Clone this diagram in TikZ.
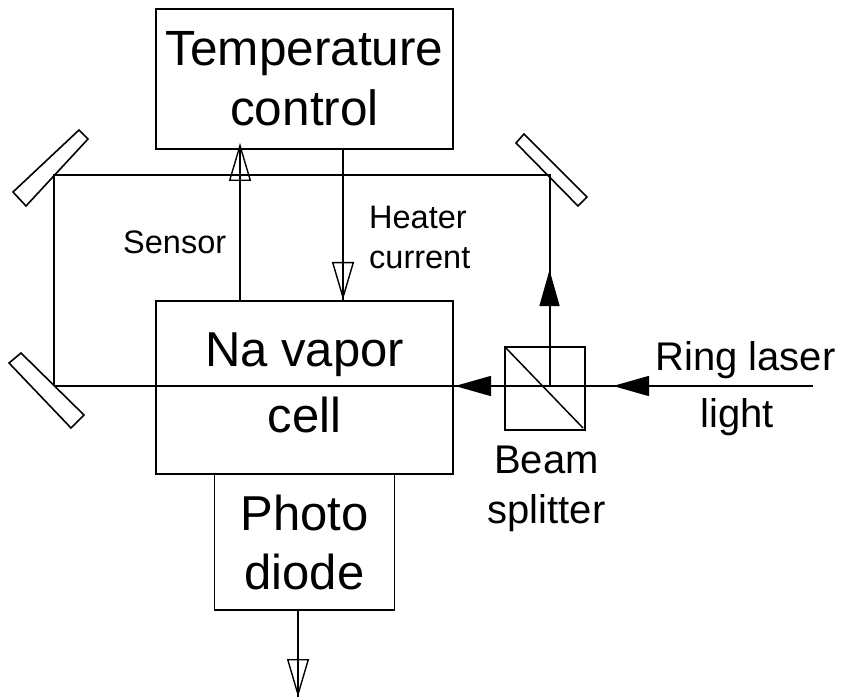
\documentclass[tikz,border=0pt]{standalone}
\usepackage{fontspec}
\setmainfont{Liberation Sans}
\usetikzlibrary{positioning,arrows.meta}

\tikzstyle{bigbox}    = [rectangle, draw=black, line width=1.8pt, outer sep=0pt, inner sep=0pt, align=center, font=\fontsize{49}{59}\selectfont]
\tikzstyle{cubebox}   = [rectangle, draw=black, line width=1.8pt, outer sep=0pt, inner sep=0pt, minimum width=80pt, minimum height=83pt]
\tikzstyle{biglabel}  = [anchor=base, inner sep=0pt, font=\fontsize{40}{50}\selectfont, align=center]
\tikzstyle{smalllabel}= [anchor=base west, inner sep=0pt, font=\fontsize{32.5}{40}\selectfont, align=left]
\tikzstyle{mirror}    = [draw=black, line width=1.6pt, line join=miter]
\tikzstyle{beam}      = [draw=black, line width=2pt]
\tikzstyle{thinbeam}  = [draw=black, line width=1.5pt]
\tikzstyle{wire}      = [draw=black, line width=1.4pt]
\tikzstyle{solidtip}  = [draw=black, line width=1.5pt, -{Triangle[length=36pt,width=20pt,fill=black]}]
\tikzstyle{hollowtip} = [draw=black, line width=1.4pt, -{Triangle[open,length=38pt,width=22pt,line width=1.4pt]}]

\begin{document}
\begin{tikzpicture}[x=1pt, y=-1pt]
        \useasboundingbox (0,0) rectangle (842,700);
        % boxes
        \node (temp)  [bigbox, minimum width=297pt, minimum height=140pt, font=\fontsize{49.5}{60}\selectfont] at (304.5,79) {Temperature\\control};
        \node (cell)  [bigbox, minimum width=297pt, minimum height=173pt] at (304.5,387.5) {};
        \node (photo) [bigbox, minimum width=180pt, minimum height=136pt, below=0pt of cell] {Photo\\diode};
        \node (split) [cubebox] at (545,388.5) {};
        % beam corners
        \coordinate (tl) at (54,175.5);
        \coordinate (tr) at (549.5,175.5);
        \coordinate (bl) at (54,386);
        \coordinate (sc) at (549.5,386);
        \coordinate (in) at (813,386);
        \coordinate (out) at (298,697);
        % mirrors
        \draw[mirror] (79,130) -- (88,139) -- (26,206) -- (13,192) -- cycle;
        \draw[mirror] (21,353) -- (9,363) -- (71,428) -- (84,415) -- cycle;
        \draw[mirror] (524,134) -- (516,143) -- (578,206) -- (587,197) -- cycle;
        % light path
        \draw[thinbeam] (in) -- (bl);
        \draw[beam] (bl) -- (tl) -- (tr) -- (sc);
        \draw[thinbeam] (split.north west) -- (583,428);
        \draw[solidtip] (sc) -- (549.5,270);
        \draw[solidtip] (sc) -- (455,386);
        \draw[solidtip] (in) -- (613,386);
        % signals
        \draw[wire] (240,301) -- (240,149);
        \draw[hollowtip] (240,301) -- (240,143);
        \draw[wire] (343,149) -- (343,301);
        \draw[hollowtip] (343,149) -- (343,300);
        \draw[wire] (photo.south -| out) -- (out);
        \draw[hollowtip] (photo.south -| out) -- (out);
        % labels
        \node (navapor) [biglabel, font=\fontsize{49}{59}\selectfont] at (304.5,366) {Na vapor};
        \node (celltxt) [biglabel, font=\fontsize{49}{59}\selectfont] at (304.5,432) {cell};
        \node (sensor) [smalllabel] at (123,254) {Sensor};
        \node (heater) [smalllabel] at (369,269) {Heater\\current};
        \node (ring)   [biglabel] at (745.5,370) {Ring laser};
        \node (light)  [biglabel] at (737,427) {light};
        \node (beam)   [biglabel] at (546.5,523) {Beam\\splitter};
    \end{tikzpicture}
\end{document}
